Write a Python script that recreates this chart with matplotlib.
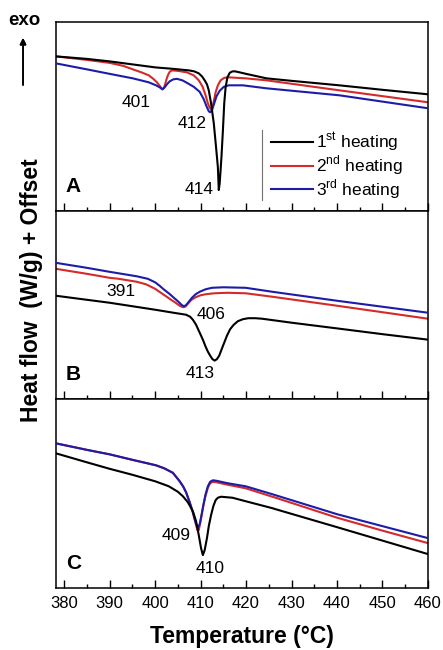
import numpy as np
import matplotlib
matplotlib.use('Agg')
import matplotlib.pyplot as plt
from matplotlib.lines import Line2D

plt.rcParams['font.family'] = ['Liberation Sans', 'DejaVu Sans']
plt.rcParams['mathtext.fontset'] = 'custom'
plt.rcParams['mathtext.rm'] = 'Liberation Sans'

# heat flow in arbitrary units (offset per panel)
# panel A
tA_1 = [378.2, 385, 390, 395, 400, 404, 407.4, 408.6, 409.6, 410.3, 410.9, 411.4, 411.8, 412.3, 412.9, 413.4, 413.8, 414.0,
        414.2, 414.4, 414.6, 414.9, 415.2, 415.5, 415.9, 416.4, 417.0, 417.6, 418.6, 420, 424.5, 430, 440.5, 450, 460]
hA_1 = [155, 152.5, 150, 147, 144, 142.5, 141, 140, 138, 135, 131, 127, 121, 108, 88, 64, 44, 21,
        28, 41, 55, 80, 108, 124, 134, 138.5, 140, 140, 139, 137.5, 133, 130.5, 126, 121.5, 117]
tA_2 = [378.2, 385, 390, 393, 395.1, 397, 398.6, 399.6, 400.4, 401.0, 401.6, 401.9, 402.2, 402.5, 402.8, 403.2, 403.7,
        405, 407, 408.5, 409.6, 410.4, 411.1, 411.6, 412.0, 412.3, 412.6, 413.0, 413.3, 413.8, 414.4, 415.2, 416.2,
        419.9, 424.5, 440.5, 460]
hA_2 = [155, 151.5, 148.5, 145.5, 142, 139, 136, 132.5, 129, 125.5, 122, 123, 127, 132, 136, 139.5, 141,
        140.5, 139, 136, 131, 125, 116, 108, 103.5, 102, 104, 112, 119, 126, 131, 133.5, 134,
        133, 131, 121, 109]
tA_3 = [378.2, 385, 390, 395.1, 398.6, 400.2, 401.0, 401.6, 402.1, 402.6, 403.2, 404.0, 404.8, 406, 407.0, 408.5,
        409.8, 410.7, 411.3, 411.8, 412.1, 412.5, 413.0, 413.5, 414.2, 415.1, 416.2, 419.3, 424.5, 440.5, 460]
hA_3 = [148, 142, 137.5, 133, 129, 126, 124, 122, 124, 127, 130, 132, 132.5, 131, 128.5, 124.5,
        119.5, 112, 105, 100, 99, 101, 108, 115, 120.5, 124.5, 126, 126, 123, 116, 103]

# panel B
tB_1 = [378.2, 390, 400, 404, 406.8, 407.7, 408.3, 409.0, 409.8, 410.5, 411.1, 411.6, 412.1, 412.6, 413.1, 413.6,
        414.1, 414.6, 415.2, 415.8, 416.5, 417.3, 418.2, 419.3, 420.5, 422, 423.5, 430, 440.5, 450, 460]
hB_1 = [104, 97, 90, 87, 85, 83, 80, 75, 67, 60, 53, 48, 44, 40.5, 39, 40.5,
        44, 50, 57, 64, 70.5, 75, 78.5, 80.5, 81.5, 81.5, 81, 77, 71, 65.5, 60]
tB_2 = [378.2, 385, 390, 392, 394, 396, 398, 400, 401.1, 402.4, 403.5, 404.5, 405.4, 406.1, 406.6, 407.2, 408.0,
        408.9, 410, 411.1, 413, 416, 419.9, 425.8, 440, 450, 460]
hB_2 = [131, 126, 122, 121, 119.5, 118, 115.5, 111, 107.5, 103.5, 100, 97, 94, 92.5, 93, 96, 100,
        102.5, 104.5, 105.5, 106.5, 107, 106.5, 103, 94, 87.5, 81]
tB_3 = [378.2, 385, 390, 392, 394, 396, 398.4, 400, 401, 402, 403, 404, 405, 405.8, 406.3, 406.8, 407.4, 408.1,
        408.9, 409.8, 411.1, 412.5, 415, 419.9, 425.8, 440, 450, 460]
hB_3 = [137, 132, 128, 126.5, 125, 123.5, 121, 117.5, 114, 110, 106.5, 102.5, 98.5, 95, 93.5, 94.5, 98, 102,
        105.5, 108, 110.5, 112, 112.5, 112, 108, 99, 93, 87]

# panel C
tC_1 = [378.2, 385, 390, 395, 400, 403, 405, 406.1, 407.2, 408.3, 409.0, 409.6, 410.1, 410.5, 410.9, 411.4, 411.8,
        412.3, 412.8, 413.3, 413.8, 414.5, 417, 419.9, 425.8, 426.5, 440, 450, 460]
hC_1 = [135, 126, 119.5, 113.5, 107, 102, 96.5, 92, 86, 77, 67, 53, 40, 33, 38, 50, 62,
        73, 82, 88, 90.5, 91.5, 90.5, 87, 80, 79, 61, 47.5, 34]
tC_2 = [378.2, 385, 390, 395, 400.2, 402, 403.9, 405.4, 406.2, 406.8, 407.6, 408.3, 408.9, 409.3, 409.6, 410.0,
        410.5, 411.0, 411.6, 412.1, 412.7, 413.5, 416, 419.9, 425.8, 426.5, 440, 450, 460]
hC_2 = [145, 138.5, 134, 128.5, 123, 120, 115.5, 107, 101.5, 96, 86, 75.5, 65, 58, 58, 67,
        80, 91, 100.5, 105, 106.5, 106, 103.5, 100, 91.5, 90.5, 70.5, 57.5, 45]
tC_3 = [378.2, 385, 390, 395, 400.2, 402, 403.9, 405.4, 406.2, 406.8, 407.6, 408.3, 408.9, 409.4, 409.8, 410.2,
        410.6, 411.1, 411.6, 412.1, 412.7, 413.5, 416, 419.9, 425.8, 426.5, 440, 450, 460]
hC_3 = [145, 138.5, 134, 128.5, 123, 120, 115.5, 107, 101.5, 96, 86, 76, 66, 60, 64, 73,
        83, 94, 102, 106.5, 108, 107.5, 105, 102, 94, 93, 74, 62, 50]

panels = [
    ("A", (tA_1, hA_1), (tA_2, hA_2), (tA_3, hA_3),
     [("401", 395.8, 109), ("412", 408.1, 88), ("414", 409.6, 22)]),
    ("B", (tB_1, hB_1), (tB_2, hB_2), (tB_3, hB_3),
     [("391", 392.5, 108), ("406", 412.2, 85), ("413", 410.0, 26)]),
    ("C", (tC_1, hC_1), (tC_2, hC_2), (tC_3, hC_3),
     [("409", 404.6, 53), ("410", 412.2, 20)]),
]

labels = [r'1$^{\mathrm{st}}$ heating', r'2$^{\mathrm{nd}}$ heating', r'3$^{\mathrm{rd}}$ heating']
colors = ["black", "#d42a2a", "#1c1ca8"]

fig = plt.figure(figsize=(4.43, 6.5), dpi=100)
gs = fig.add_gridspec(3, 1, left=0.1264, right=0.966, top=0.9654, bottom=0.0954, hspace=0)
axes = [fig.add_subplot(gs[i]) for i in range(3)]

for i, (letter, s1, s2, s3, notes) in enumerate(panels):
    ax = axes[i]
    ax.plot(s2[0], s2[1], color=colors[1], lw=1.5, label=labels[1], zorder=2)
    ax.plot(s3[0], s3[1], color=colors[2], lw=1.5, label=labels[2], zorder=3)
    ax.plot(s1[0], s1[1], color=colors[0], lw=1.5, label=labels[0], zorder=4)
    ax.set_xlim(378.2, 460)
    ax.set_ylim(0, 189)
    ax.set_yticks([])
    ax.set_xticks(np.arange(380, 461, 10))
    ax.set_xticks(np.arange(385, 460, 10), minor=True)
    ax.tick_params(axis='x', which='major', direction='in', length=6, width=1, pad=6, labelsize=12)
    ax.tick_params(axis='x', which='minor', direction='in', length=3, width=1)
    if i < 2:
        ax.tick_params(axis='x', labelbottom=False)
    for sp in ax.spines.values():
        sp.set_linewidth(1.1)
    for txt, tx, ty in notes:
        ax.text(tx, ty, txt, fontsize=12.5, ha='center', va='center')
    ax.text(382.0, 25, letter, fontsize=15, fontweight='bold', ha='center', va='center')

# legend in panel A
h, l = axes[0].get_legend_handles_labels()
order = [2, 0, 1]
leg = axes[0].legend([h[k] for k in order], [l[k] for k in order], loc='lower left',
                     bbox_to_anchor=(0.546, -0.012), frameon=False, fontsize=12.5,
                     handlelength=2.4, handletextpad=0.2, labelspacing=0.0, borderpad=0.2)
axes[0].add_line(Line2D([0.554, 0.554], [0.058, 0.43], transform=axes[0].transAxes,
                        color='0.45', lw=0.8))

axes[2].set_xlabel("Temperature (°C)", fontsize=16.5, fontweight='bold', labelpad=10)
fig.text(0.07, 0.553, "Heat flow  (W/g) + Offset", rotation=90, fontsize=16.5,
         fontweight='bold', ha='center', va='center')

fig.text(0.056, 0.969, "exo", fontsize=13.5, fontweight='bold', ha='center', va='center')
fig.add_artist(plt.annotate('', xy=(0.052, 0.946), xytext=(0.052, 0.865), xycoords='figure fraction',
                            arrowprops=dict(arrowstyle='-|>', color='black', lw=1.2, mutation_scale=9)))

plt.savefig("out.png", dpi=100)
